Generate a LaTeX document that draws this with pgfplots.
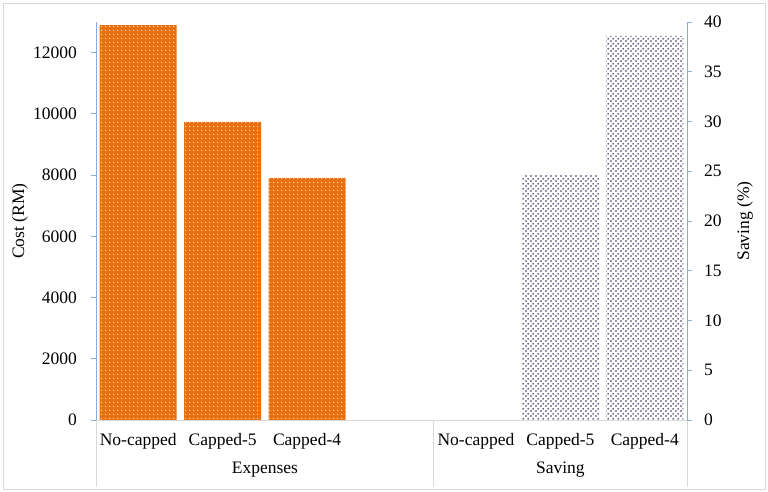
\documentclass[border=0pt]{standalone}
\usepackage{pgfplots}
\pgfplotsset{compat=1.18}
\usepackage{fontspec}
\setmainfont{Liberation Serif}
\usetikzlibrary{patterns.meta}
\definecolor{barorange}{HTML}{E8700E}
\definecolor{dotpurple}{HTML}{34275F}
\definecolor{axisblue}{HTML}{8FAAD0}
\definecolor{framegray}{HTML}{D9D9D9}
\tikzdeclarepattern{
  name=odots, type=uncolored,
  bounding box={(0pt,0pt) and (4pt,4pt)},
  tile size={(4pt,4pt)},
  code={\fill (2pt,2pt) circle (0.85pt);}
}
\tikzdeclarepattern{
  name=sdots, type=uncolored,
  bounding box={(0pt,0pt) and (5pt,5pt)},
  tile size={(5pt,5pt)},
  code={\fill (1.25pt,1.25pt) circle (1.05pt); \fill (3.75pt,3.75pt) circle (1.05pt);}
}
\pgfplotstableread{
x y
0 12900
1 9740
2 7910
}\expenses
\pgfplotstableread{
x y
5 24.6
6 38.6
}\saving
\begin{document}
\fontsize{17.5}{20}\selectfont
\begin{tikzpicture}
\pgfplotsset{
  common/.style={
    scale only axis, width=591pt, height=398pt,
    xmin=-0.5, xmax=6.5, ymin=0,
    clip=false,
    ybar, bar width=77pt,
    tick align=outside, major tick length=5pt,
    /pgf/number format/assume math mode=true,
    ticklabel style={font=\fontsize{17.5}{20}\selectfont},
    label style={font=\fontsize{17.5}{20}\selectfont},
    y axis line style={draw=axisblue, line width=0.8pt},
    ytick style={draw=axisblue, line width=0.8pt},
  }
}
\begin{axis}[
  common, name=main,
  ymax=13000,
  axis y line*=left, axis x line*=bottom,
  x axis line style={draw=framegray, line width=0.8pt},
  xtick={0,...,6},
  xticklabels={No-capped,Capped-5,Capped-4,{},No-capped,Capped-5,Capped-4},
  x tick style={draw=none},
  xticklabel style={anchor=base, yshift=-20pt},
  ytick={0,2000,...,12000},
  scaled y ticks=false,
  yticklabel style={/pgf/number format/1000 sep={}, xshift=-8pt},
  ylabel={Cost (RM)},
  ylabel style={at={(axis description cs:-0.1286,0.5)}, anchor=center},
]
\addplot[fill=barorange, draw=none, postaction={pattern=odots, pattern color=white!80!barorange}] table[x=x,y=y] {\expenses};
\draw[framegray, line width=0.8pt] (axis cs:-0.5,0) -- ([yshift=-67pt]axis cs:-0.5,0);
\draw[framegray, line width=0.8pt] (axis cs:3.5,0) -- ([yshift=-67pt]axis cs:3.5,0);
\draw[framegray, line width=0.8pt] (axis cs:6.5,0) -- ([yshift=-67pt]axis cs:6.5,0);
\node[anchor=base] at ([yshift=-53pt]axis cs:1.5,0) {Expenses};
\node[anchor=base] at ([yshift=-53pt]axis cs:5,0) {Saving};
\end{axis}
\begin{axis}[
  common,
  ymax=40,
  axis y line*=right, axis x line=none,
  ytick={0,5,...,40},
  yticklabel style={xshift=6pt},
  ylabel={Saving (\%)},
  ylabel style={at={(axis description cs:1.0981,0.5)}, anchor=center},
]
\addplot[fill=white, draw=none, postaction={pattern=sdots, pattern color=dotpurple}] table[x=x,y=y] {\saving};
\end{axis}
\draw[framegray, line width=0.8pt] ([shift={(-93pt,-69pt)}]main.south west) rectangle ([shift={(78pt,19pt)}]main.north east);
\pgfresetboundingbox
\path[use as bounding box] ([shift={(-96pt,-72pt)}]main.south west) rectangle ([shift={(81pt,22pt)}]main.north east);
\end{tikzpicture}
\end{document}
